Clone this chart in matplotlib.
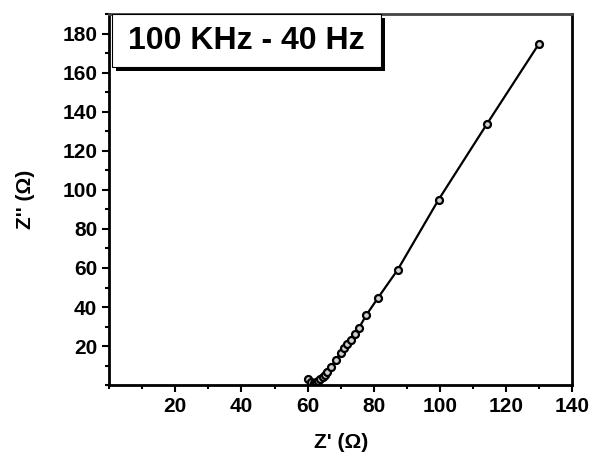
import numpy as np
import matplotlib.pyplot as plt
from matplotlib.patches import Rectangle
from matplotlib.ticker import MultipleLocator

plt.rcParams['font.family'] = ['Liberation Sans', 'DejaVu Sans']

# Nyquist data
z_real = [60.1, 61.0, 61.8, 62.5, 63.2, 63.9, 64.6, 65.3, 66.0, 67.2, 68.5,
          70.0, 71.0, 72.0, 73.0, 74.2, 75.6, 77.8, 81.2, 87.2, 99.6, 114.3, 129.8]
z_imag = [3.0, 1.5, 1.2, 1.5, 2.2, 3.0, 4.0, 5.0, 6.5, 9.5, 13.0,
          16.5, 18.8, 21.0, 23.2, 26.0, 29.5, 36.0, 44.5, 59.0, 95.0, 134.0, 174.5]
x_ticks = [20, 40, 60, 80, 100, 120, 140]
y_ticks = [20, 40, 60, 80, 100, 120, 140, 160, 180]
label = '100 KHz - 40 Hz'

fig = plt.figure(figsize=(5.93, 4.59), dpi=100)
ax = fig.add_axes([0.184, 0.161, 0.781, 0.808])

ax.plot(z_real, z_imag, '-', color='black', lw=1.6,
        marker='o', ms=5, mfc='#d0d0d0', mec='black', mew=1.6)

ax.set_xlim(0, 140)
ax.set_ylim(0, 190)
ax.set_xticks(x_ticks)
ax.set_yticks(y_ticks)
ax.xaxis.set_minor_locator(MultipleLocator(10))
ax.yaxis.set_minor_locator(MultipleLocator(10))
ax.tick_params(which='major', direction='out', length=5, width=1.5, labelsize=15)
ax.tick_params(which='minor', direction='out', length=3, width=1.5)
for t in ax.get_xticklabels() + ax.get_yticklabels():
    t.set_fontweight('bold')
for s in ax.spines.values():
    s.set_linewidth(2)
ax.spines['top'].set_color('#444444')

ax.set_xlabel("Z' (\u03a9)", fontsize=15, fontweight='bold', labelpad=12)
ax.set_ylabel("Z'' (\u03a9)", fontsize=15, fontweight='bold', labelpad=20)

# label box with shadow
dx = 4 / (0.781 * 593)
dy = 4 / (0.808 * 459)
ax.add_patch(Rectangle((0.006 + dx, 0.857 - dy), 0.58, 0.143, transform=ax.transAxes,
                       facecolor='black', edgecolor='none', zorder=5, clip_on=False))
ax.add_patch(Rectangle((0.006, 0.857), 0.58, 0.143, transform=ax.transAxes,
                       facecolor='white', edgecolor='black', lw=0.8, zorder=6, clip_on=False))
ax.text(0.296, 0.928, label, transform=ax.transAxes, ha='center', va='center',
        fontsize=23, fontweight='bold', zorder=7)

fig.savefig('out.png', dpi=100)
